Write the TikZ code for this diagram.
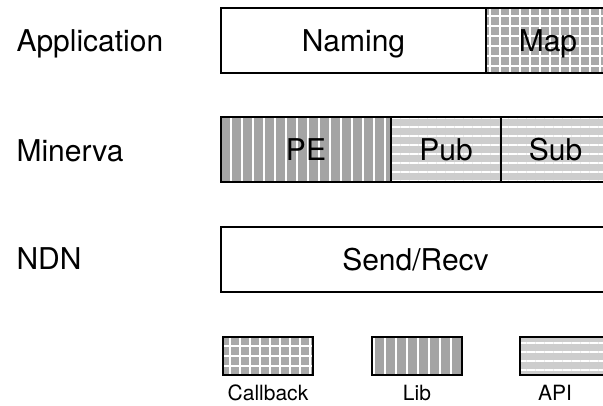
\documentclass[tikz,border=0pt]{standalone}
\usepackage{fontspec}
\setmainfont{TeX Gyre Heros}
\usetikzlibrary{positioning,patterns.meta}
\definecolor{cbgray}{HTML}{A9A9A9}
\definecolor{libgray}{HTML}{A4A4A4}
\definecolor{apigray}{HTML}{CDCDCD}
\begin{document}
\begin{tikzpicture}[x=1pt,y=-1pt,
    lbl/.style={font=\fontsize{30}{36}\selectfont},
    keytext/.style={font=\fontsize{21}{25}\selectfont, anchor=base, inner sep=0pt},
    layerbox/.style={draw, line width=1.4pt, outer sep=0pt, inner sep=0pt,
        minimum height=65pt, text height=21.5pt, text depth=0pt,
        font=\fontsize{30}{36}\selectfont},
    keybox/.style={draw, line width=1.4pt, outer sep=0pt,
        minimum width=90pt, minimum height=38pt},
    callback/.style={preaction={fill=cbgray},
        preaction={pattern={Hatch[distance=10pt,angle=0,line width=1.3pt]}, pattern color=white}},
    lib/.style={preaction={fill=libgray},
        preaction={pattern={Lines[distance=11pt,angle=90,line width=1.3pt]}, pattern color=white}},
    api/.style={preaction={fill=apigray},
        preaction={pattern={Lines[distance=9pt,angle=0,line width=1.3pt]}, pattern color=white}}]
        \useasboundingbox (0,0) rectangle (603,406);
        \clip (0,0) rectangle (603,406);
        \node[lbl, anchor=base west] (app) at (13,52) {Application};
        \node[lbl, anchor=base west] (minerva) at (13,162) {Minerva};
        \node[lbl, anchor=base west] (ndn) at (13,270) {NDN};

        \node[layerbox, minimum width=265pt] (naming) at (353.5,40.5) {Naming};
        \node[layerbox, callback, minimum width=124pt, right=0pt of naming] (map) {Map};

        \node[layerbox, lib, minimum width=170pt] (pe) at (306,149.5) {PE};
        \node[layerbox, api, minimum width=110pt, right=0pt of pe] (pub) {Pub};
        \node[layerbox, api, minimum width=109pt, right=0pt of pub] (sub) {Sub};

        \node[layerbox, minimum width=389pt] (send) at (415.5,259.5) {Send/Recv};

        \node[keybox, callback] (keycb) at (268,356) {};
        \node[keybox, lib] (keylib) at (417,356) {};
        \node[keybox, api] (keyapi) at (565,356) {};
        \node[keytext] (cbtext) at (268,400) {Callback};
        \node[keytext] (libtext) at (417,400) {Lib};
        \node[keytext] (apitext) at (555,400) {API};
\end{tikzpicture}
\end{document}
